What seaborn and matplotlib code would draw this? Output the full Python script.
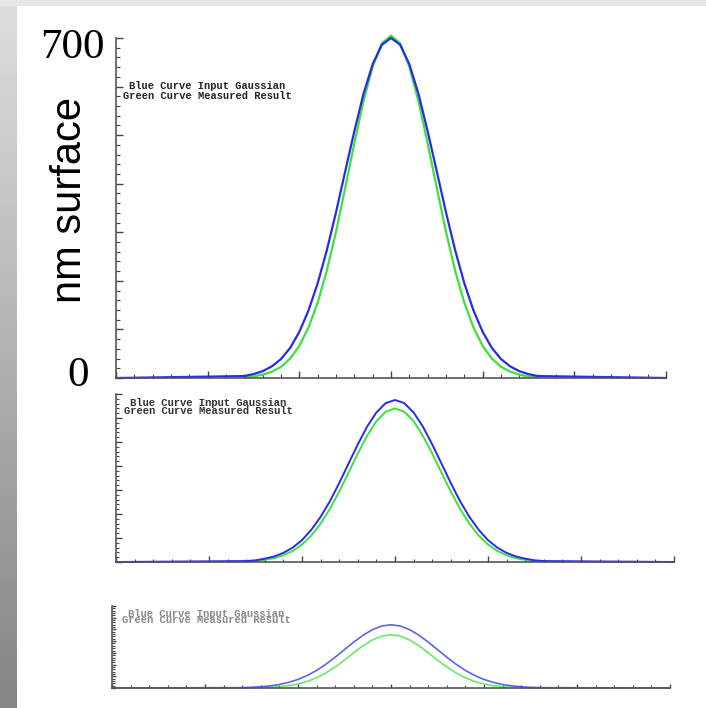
import matplotlib
matplotlib.use("Agg")
import matplotlib.pyplot as plt
import seaborn as sns
import numpy as np
import pandas as pd

# sample positions read along the x axis (axis runs -3 .. 3)
x_curve = [-1.6, -1.5, -1.4, -1.3, -1.2, -1.1, -1.0, -0.9, -0.8, -0.7, -0.6,
           -0.5, -0.4, -0.3, -0.2, -0.1, 0.0, 0.1, 0.2, 0.3, 0.4, 0.5, 0.6,
           0.7, 0.8, 0.9, 1.0, 1.1, 1.2, 1.3, 1.4, 1.5, 1.6]
x_blue = [-3.0] + x_curve + [3.0]

# panel 1 (nm surface)
blue1 = [0, 4, 8, 14, 24, 39, 62, 95, 139, 195, 263, 341, 425, 508, 585, 646, 686, 700,
         686, 646, 585, 508, 425, 341, 263, 195, 139, 95, 62, 39, 24, 14, 8, 4, 0]
green1 = [2, 3, 7, 13, 23, 40, 66, 104, 155, 221, 301, 391, 483, 570, 641, 689, 705,
          689, 641, 570, 483, 391, 301, 221, 155, 104, 66, 40, 23, 13, 7, 3, 2]
# panel 2
blue2 = [0, 4, 7, 14, 23, 38, 60, 91, 134, 188, 253, 329, 410, 490, 564, 623, 662, 675,
         662, 623, 564, 490, 410, 329, 253, 188, 134, 91, 60, 38, 23, 14, 7, 4, 0]
green2 = [2, 5, 9, 16, 28, 46, 73, 110, 160, 221, 293, 372, 452, 526, 587, 626, 640,
          626, 587, 526, 452, 372, 293, 221, 160, 110, 73, 46, 28, 16, 9, 5, 2]
# panel 3
blue3 = [0, 3, 6, 11, 18, 30, 48, 73, 107, 150, 203, 263, 328, 392, 451, 498, 529, 540,
         529, 498, 451, 392, 328, 263, 203, 150, 107, 73, 48, 30, 18, 11, 6, 3, 0]
green3 = [0, 1, 3, 6, 11, 20, 34, 56, 87, 128, 180, 238, 301, 361, 410, 443, 455,
          443, 410, 361, 301, 238, 180, 128, 87, 56, 34, 20, 11, 6, 3, 1, 0]

legend_text = "Blue Curve Input Gaussian\nGreen Curve Measured Result"

sns.set_style("white")
W, H = 706, 708
fig = plt.figure(figsize=(W / 100, H / 100), dpi=100)
fig.patch.set_facecolor("white")

# grey frame strips (left gradient + top band)
band = fig.add_axes([0, 0, 17 / W, 1])
grad = np.linspace(0.87, 0.52, 200).reshape(-1, 1)
band.imshow(grad, aspect="auto", cmap="gray", vmin=0, vmax=1, extent=[0, 1, 0, 1])
band.axis("off")
top = fig.add_axes([0, 1 - 6 / H, 1, 6 / H])
top.set_facecolor("#e6e6e6")
top.set_xticks([]); top.set_yticks([])
for s in top.spines.values():
    s.set_visible(False)


def px_axes(left, right, ytop, ybot):
    return fig.add_axes([left / W, 1 - ybot / H, (right - left) / W, (ybot - ytop) / H])


panels = [
    (px_axes(116, 666, 38, 378), blue1, green1, 1.6, "#2a2ae8", "#3ee03e", 1.0, 5, 3),
    (px_axes(116, 674, 394, 562), blue2, green2, 1.4, "#2a2ae8", "#3ee03e", 1.0, 4, 2.5),
    (px_axes(112, 670, 606, 688), blue3, green3, 1.2, "#3a3ae8", "#4ae04a", 0.8, 3, 2),
]

for ax, b, g, lw, cb, cg, alpha, tl_major, tl_minor in panels:
    df_b = pd.DataFrame({"x": x_blue, "y": b})
    df_g = pd.DataFrame({"x": x_curve, "y": g})
    sns.lineplot(data=df_g, x="x", y="y", ax=ax, color=cg, lw=lw, alpha=alpha)
    sns.lineplot(data=df_b, x="x", y="y", ax=ax, color=cb, lw=lw, alpha=alpha)
    for ln in ax.lines:
        ln.set_clip_on(False)
        ln.set_solid_joinstyle("round")
    ax.set_xlim(-3, 3)
    ax.set_ylim(0, 700)
    ax.set_xlabel("")
    ax.set_ylabel("")
    ax.set_facecolor("none")
    for s in ["top", "right"]:
        ax.spines[s].set_visible(False)
    for s in ["left", "bottom"]:
        ax.spines[s].set_color("#555555")
        ax.spines[s].set_linewidth(1.2)
    ax.set_xticks(np.arange(-3, 3.01, 1.0))
    ax.set_xticks(np.arange(-3, 3.01, 0.2), minor=True)
    ax.set_yticks(np.arange(0, 701, 100))
    ax.set_yticks(np.arange(0, 701, 20), minor=True)
    ax.tick_params(which="both", bottom=True, left=True, top=False, right=False,
                   direction="in", color="#444444", labelleft=False, labelbottom=False)
    ax.tick_params(which="major", length=tl_major, width=1.0)
    ax.tick_params(which="minor", length=tl_minor, width=0.8)

# legend notes in each panel
fig.text(207 / W, 1 - 91 / H, legend_text, ha="center", va="center",
         family="Liberation Mono", weight="bold", fontsize=7.5,
         linespacing=1.0, color="#222222")
fig.text(208 / W, 1 - 407 / H, legend_text, ha="center", va="center",
         family="Liberation Mono", weight="bold", fontsize=7.6,
         linespacing=0.8, color="#333333")
fig.text(206 / W, 1 - 617 / H, legend_text, ha="center", va="center",
         family="Liberation Mono", weight="bold", fontsize=7.6,
         linespacing=0.55, color="#8a8a8a")

# y axis annotations
fig.text(72 / W, 1 - 48 / H, "700", ha="center", va="center",
         family="Liberation Serif", fontsize=31, color="black")
fig.text(78 / W, 1 - 376 / H, "0", ha="center", va="center",
         family="Liberation Serif", fontsize=31, color="black")
fig.text(70 / W, 1 - 200 / H, "nm surface", ha="center", va="center",
         rotation=90, family="Liberation Sans", fontsize=30, color="black")

fig.savefig("out.png", dpi=100, facecolor="white")
